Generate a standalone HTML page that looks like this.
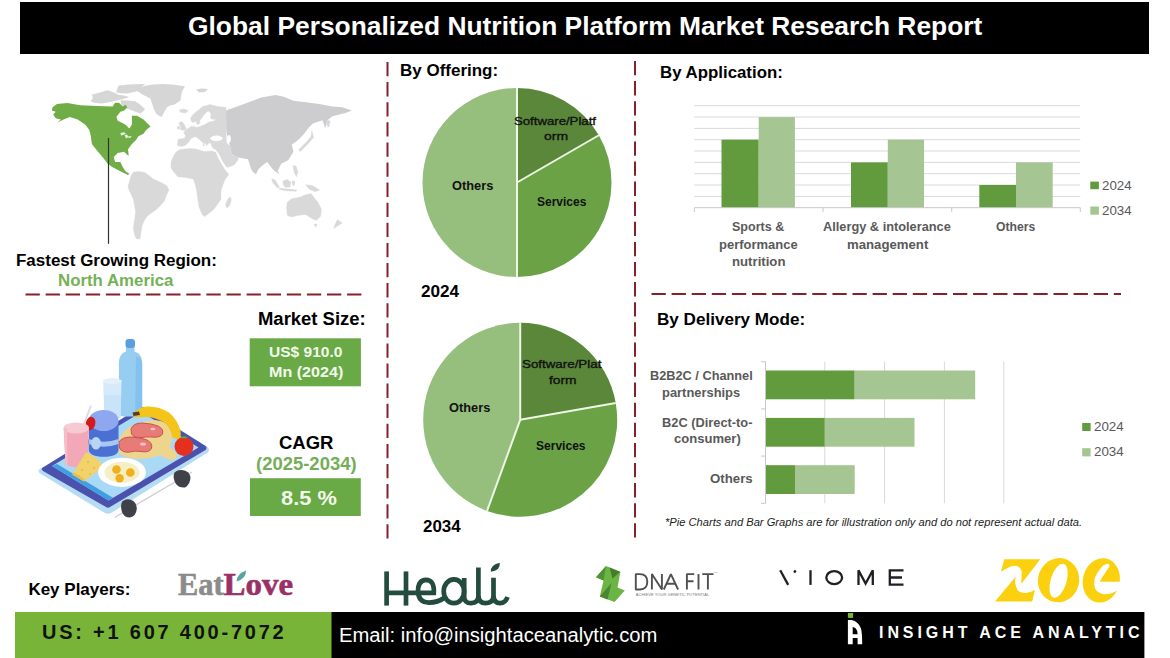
<!DOCTYPE html>
<html><head><meta charset="utf-8">
<style>
*{margin:0;padding:0;box-sizing:border-box}
html,body{width:1170px;height:658px;overflow:hidden;background:#fff}
body{position:relative;font-family:"Liberation Sans",sans-serif;color:#000}
.a{position:absolute;white-space:nowrap;line-height:1}
.b{font-weight:bold}
svg{position:absolute;left:0;top:0}
</style></head><body>
<svg width="1170" height="658" viewBox="0 0 1170 658">
<!-- header -->
<rect x="20" y="2" width="1129" height="52" fill="#000"/>
<!-- dashed separators -->
<g stroke="#86202c" stroke-width="2" stroke-dasharray="14.3 5.8" fill="none">
<line x1="387.5" y1="62" x2="387.5" y2="539"/>
<line x1="635" y1="61" x2="635" y2="539"/>
<line x1="25.5" y1="294.5" x2="362" y2="294.5"/>
<line x1="651.5" y1="294.1" x2="1121" y2="294.1"/>
</g>
<!-- MAP -->
<g id="map" stroke-linejoin="round">
<!-- Greenland + arctic (light gray) -->
<g fill="#d6d6d6">
<path d="M136.1,90.2 L141,87.5 L145,85.8 L153,84.5 L162.8,84.1 L172,84.6 L185,86.3 L183,89.5 L181.7,92.4 L181,96.5 L180.6,100.2 L177.5,102.5 L173.9,104.7 L170,105.5 L167.2,106.9 L164.5,111.5 L161.7,116.9 L158.5,115.5 L156.1,113.6 L154,109.5 L152.8,105.8 L151.5,102 L150.6,99.1 L147,96.8 L142.8,94.7 Z"/>
<path d="M116.1,92.4 L118.3,85.8 L126,84.8 L135,84.3 L145,84.1 L141,88 L137.2,91.3 L132,92.5 L127.2,93.6 L121,93.3 Z"/>
<path d="M91.7,94.7 L100,92.5 L107.2,90.2 L113,92 L118.3,94.7 L124,95.5 L129.4,96.9 L124,98.8 L118.3,100.2 L110,102 L101.7,103.6 L95,103 L90.6,101.3 L93,98 Z"/>
<path d="M120.6,100.2 L128,100.5 L135,101.3 L140,104.5 L145,109.1 L143,111.5 L140.6,113.6 L136,112 L131.7,110.2 L127,108.5 L123.9,106.9 L121,104 Z"/>
<path d="M196,89.5 L201,88.6 L208,89 L205,92 L199,92.6 Z"/>
</g>
<!-- North America (green) -->
<path fill="#70ad47" d="M52.5,107.3 L57,104 L67.4,103 L80.3,105.3 L97,106 L112.6,106.6 L115.1,102.7 L119,102.7 L122.9,106.6 L125.5,104.7 L127.4,107.3 L124.2,110.5 L120.3,111.8 L116.4,117 L117.7,120.8 L121.5,122.5 L125.5,124.7 L129.3,128.6 L131.9,124.7 L131.9,115.7 L137.1,115.7 L143.5,119.5 L150.6,126.6 L146.1,129.9 L143.5,133.7 L138.4,136.3 L135.8,140.2 L131.9,144.1 L128,149.2 L128.7,155.7 L126.8,154.4 L124.2,151.8 L117.7,153.1 L113.8,157 L115.1,162.1 L120.3,162.1 L122.9,167.3 L125.5,171.2 L129.3,173.8 L128,175 L120.3,171.2 L112.6,167.3 L107.4,163.4 L103.5,158.3 L97,150.5 L91.9,144.1 L90.6,135 L89.3,129.9 L85.4,124.7 L77.7,119.5 L70,117 L63.5,119.5 L57,122.8 L60.9,119.5 L55.7,118.2 L53.2,114.4 L55.7,111.8 L51.9,110.5 Z"/>
<!-- great lakes -->
<g fill="#e8f3df">
<path d="M120.5,133 L124,132.2 L126,133.5 L123,135 L121,135.5 Z"/>
<path d="M124.5,135 L127,134.5 L128.5,137 L126,138.5 Z"/>
<path d="M128,136.5 L131.5,136 L131,137.5 L128.5,138 Z"/>
</g>
<!-- Asia (darker gray) -->
<path fill="#cdcdcf" d="M226,110.5 L235,107.2 L248,102.4 L261,97.5 L275.6,95 L283.7,96.7 L293.4,100.7 L308,102.4 L319.4,104 L332.4,106.4 L342.1,107.2 L351.9,110.5 L345.4,112.9 L332.4,116.2 L327.5,120.2 L325.1,128.3 L322.6,120.2 L312.9,123.5 L309.7,126.7 L309.2,127 L304,134 L297,141 L291.7,144.5 L293.5,151.5 L288.2,160.2 L281.2,163.7 L277.7,170.7 L279.5,174.2 L276,172 L272.5,169 L267.2,162 L263,165 L258.5,169 L256,174.2 L253,172 L251.2,169 L248,159.2 L238.2,157.6 L231.7,154.3 L230,146.2 L226.8,134.8 L225.2,118.6 Z"/>
<!-- Europe / Middle East / Africa / S America / Australia (light gray) -->
<g fill="#d9d9d9" stroke="#d9d9d9" stroke-width="0.4">
<path d="M226,107.3 L224.7,107.3 L217.4,106.4 L210.1,104.6 L202.8,106.4 L197.3,110.9 L193,114.5 L190.5,118.2 L191.5,121.5 L193.7,122.8 L195.5,121 L197.3,124.6 L199.5,123.5 L200.1,120 L203.5,115.5 L206.5,111.9 L209,111 L211,114 L210.5,118.2 L213,119.5 L216,119 L214,121 L209,122 L205,124.5 L200,126.5 L196,127.5 L194.6,126.4 L191,126.4 L188,128.5 L185.5,130.1 L183.7,132.8 L185.5,135.5 L184.6,138.3 L178.2,139.2 L177.3,145.6 L181.9,146.5 L186,145 L188.2,142.8 L191,138.5 L195.5,136.5 L200.1,140.1 L203.7,143.8 L202.8,145.6 L204,146 L204.6,142 L206.5,145.6 L209.2,142.8 L211,143.8 L216,142.5 L221,141.9 L226.5,142.8 L226,134 L226.5,125 L226,115 Z"/>
<path d="M211,143.8 L216,142.5 L221,141.9 L226.5,142.8 L230,146.2 L231.7,154.3 L238.2,157.6 L238,160 L234,165 L227,167.5 L222.5,161 L218.5,153 L215,149 L212.8,148.3 Z"/>
<path d="M179.1,122.5 L182,121.5 L184,124 L186.4,129 L184,130.3 L180.5,130 L181,127 L179.5,125 Z"/>
<path d="M177.3,126.8 L179.8,126.2 L180,128.8 L177.5,129.3 Z"/>
<path d="M179.1,110 L184,109 L188.2,110.5 L186,112.8 L181,112.6 Z"/>
<path d="M171,162 L173.3,156.7 L176,152 L180,149.5 L190,148.5 L196,149 L204,151.5 L212,151 L215.6,152.2 L218,158 L221,163.3 L225,170 L228.9,174.4 L226,178 L224.4,181 L221,190 L221,198.9 L217,205 L213.3,210 L208,214 L204.4,216.7 L202.2,214.4 L199,207 L197.8,198.9 L196.5,190 L195.6,185.6 L193.3,178.9 L186,177.5 L177.8,176.7 L173,171 L171,167.8 Z"/>
<ellipse cx="228.5" cy="202.5" rx="2" ry="5.5" transform="rotate(20 228.5 202.5)"/>
<path d="M131,176 L133.3,172.2 L138,171.5 L144.4,172.2 L149,175.5 L153.3,178.9 L160,182 L166.7,185.6 L168.9,190 L166,196 L164.4,201 L160,206 L155.6,210 L150,214 L146.7,216.7 L144,221 L142.2,225.6 L141,232 L140,238.9 L137,239 L135.6,237.8 L134,232 L133.3,227.8 L134.5,220 L135.6,212.2 L134.5,205 L133.3,198.9 L131,194 L128.9,190 L128,186 L128.9,183.3 Z"/>
<path d="M287.3,202.2 L291.7,198.7 L300.5,196.9 L304,195.2 L311,193.4 L313.6,196.9 L318,202.2 L321.4,209.2 L320.6,216.2 L316.2,220.5 L311,217.9 L305.7,214.4 L298.7,215.3 L291.7,217 L287.3,215.3 L286.5,207.4 Z"/>
<path d="M314.4,224 L317,224 L316.5,226.6 L314.8,226.4 Z"/>
<path d="M337.2,219.7 L342.4,223.1 L339,225 L333.7,228.4 L334.5,226 Z"/>
<!-- SE Asia islands -->
<path d="M271.6,178.6 L275,180 L279.5,187.3 L277.5,188 L273,183 Z"/>
<path d="M279.5,188.2 L288,189 L297,190 L296,191.3 L286,190.8 L279.5,189.5 Z"/>
<path d="M283,181 L287,179.4 L290.8,182 L290,187 L285,187.3 L283,184 Z"/>
<path d="M292,181 L295,181.5 L294,186 L292.5,185 Z"/>
<path d="M293,165.5 L296,166 L297.8,172 L296.5,176.8 L294,172 Z"/>
<path d="M305.7,184.7 L312,185.5 L319.7,190 L315,191.7 L309,189 Z"/>
<path d="M311.8,130.5 L313.6,137.5 L307.4,144.5 L300.5,151.5 L298.7,149.7 L305.7,142.7 L311,136.6 Z"/>
<path d="M326.7,120 L330.2,121 L329,127 L327,126 Z"/>
</g>
<!-- seas -->
<g fill="#fff">
<ellipse cx="216.5" cy="138.3" rx="6.2" ry="2.7"/>
<ellipse cx="229" cy="139" rx="1.8" ry="4"/>
</g>
</g>

<!-- PIE 1 -->
<g id="pie1">
<path fill="#5a8739" d="M517,182.5 L517.00,88.00 A94.5,94.5 0 0 1 598.84,135.25 Z"/>
<path fill="#6aa245" d="M517,182.5 L598.84,135.25 A94.5,94.5 0 0 1 517.00,277.00 Z"/>
<path fill="#96be7d" d="M517,182.5 L517.00,277.00 A94.5,94.5 0 0 1 517.00,88.00 Z"/>
<line x1="517" y1="182.5" x2="517.00" y2="88.00" stroke="#eef6e6" stroke-width="2"/>
<line x1="517" y1="182.5" x2="598.84" y2="135.25" stroke="#eef6e6" stroke-width="2"/>
<line x1="517" y1="182.5" x2="517.00" y2="277.00" stroke="#eef6e6" stroke-width="2"/>
</g>
<!-- PIE 2 -->
<g id="pie2">
<path fill="#5a8739" d="M520.2,419.8 L520.20,322.80 A97,97 0 0 1 615.73,402.96 Z"/>
<path fill="#6aa245" d="M520.2,419.8 L615.73,402.96 A97,97 0 0 1 487.02,510.95 Z"/>
<path fill="#96be7d" d="M520.2,419.8 L487.02,510.95 A97,97 0 0 1 520.20,322.80 Z"/>
<line x1="520.2" y1="419.8" x2="520.20" y2="322.80" stroke="#eef6e6" stroke-width="2"/>
<line x1="520.2" y1="419.8" x2="615.73" y2="402.96" stroke="#eef6e6" stroke-width="2"/>
<line x1="520.2" y1="419.8" x2="487.02" y2="510.95" stroke="#eef6e6" stroke-width="2"/>
</g>
<g id="charts">
<line x1="694.4" y1="105.7" x2="1080.3" y2="105.7" stroke="#d9d9d9" stroke-width="1"/>
<line x1="694.4" y1="117.0" x2="1080.3" y2="117.0" stroke="#d9d9d9" stroke-width="1"/>
<line x1="694.4" y1="128.4" x2="1080.3" y2="128.4" stroke="#d9d9d9" stroke-width="1"/>
<line x1="694.4" y1="139.7" x2="1080.3" y2="139.7" stroke="#d9d9d9" stroke-width="1"/>
<line x1="694.4" y1="151.0" x2="1080.3" y2="151.0" stroke="#d9d9d9" stroke-width="1"/>
<line x1="694.4" y1="162.4" x2="1080.3" y2="162.4" stroke="#d9d9d9" stroke-width="1"/>
<line x1="694.4" y1="173.7" x2="1080.3" y2="173.7" stroke="#d9d9d9" stroke-width="1"/>
<line x1="694.4" y1="185.0" x2="1080.3" y2="185.0" stroke="#d9d9d9" stroke-width="1"/>
<line x1="694.4" y1="196.4" x2="1080.3" y2="196.4" stroke="#d9d9d9" stroke-width="1"/>
<rect x="721.5" y="139.7" width="37.2" height="68.0" fill="#629a3e"/>
<rect x="758.7" y="117.1" width="36.2" height="90.6" fill="#a5c692"/>
<rect x="851" y="162.4" width="36.8" height="45.3" fill="#629a3e"/>
<rect x="887.8" y="139.7" width="36.2" height="68.0" fill="#a5c692"/>
<rect x="979.3" y="185" width="36.7" height="22.7" fill="#629a3e"/>
<rect x="1016" y="162.4" width="36.7" height="45.3" fill="#a5c692"/>
<line x1="694.4" y1="207.7" x2="1080.3" y2="207.7" stroke="#c8c8c8" stroke-width="1"/>
<line x1="694.4" y1="207.7" x2="694.4" y2="212" stroke="#c8c8c8" stroke-width="1"/>
<line x1="823" y1="207.7" x2="823" y2="212" stroke="#c8c8c8" stroke-width="1"/>
<line x1="951.7" y1="207.7" x2="951.7" y2="212" stroke="#c8c8c8" stroke-width="1"/>
<line x1="1080.3" y1="207.7" x2="1080.3" y2="212" stroke="#c8c8c8" stroke-width="1"/>
<rect x="1090.3" y="181.6" width="8.6" height="7.6" fill="#629a3e"/>
<rect x="1090.3" y="206.5" width="8.6" height="8.2" fill="#a5c692"/>
<line x1="824.8" y1="361.7" x2="824.8" y2="503.3" stroke="#d9d9d9" stroke-width="1"/>
<line x1="884.6" y1="361.7" x2="884.6" y2="503.3" stroke="#d9d9d9" stroke-width="1"/>
<line x1="944.4" y1="361.7" x2="944.4" y2="503.3" stroke="#d9d9d9" stroke-width="1"/>
<line x1="1003.8" y1="361.7" x2="1003.8" y2="503.3" stroke="#d9d9d9" stroke-width="1"/>
<rect x="765.5" y="370.5" width="89.2" height="28.8" fill="#629a3e"/>
<rect x="854.7" y="370.5" width="120.5" height="28.8" fill="#a5c692"/>
<rect x="765.5" y="417.9" width="59.3" height="28.8" fill="#629a3e"/>
<rect x="824.8" y="417.9" width="89.7" height="28.8" fill="#a5c692"/>
<rect x="765.5" y="465.2" width="29.5" height="28.8" fill="#629a3e"/>
<rect x="795" y="465.2" width="59.7" height="28.8" fill="#a5c692"/>
<line x1="765.5" y1="361.7" x2="765.5" y2="503.3" stroke="#c8c8c8" stroke-width="1"/>
<line x1="761" y1="361.7" x2="765.5" y2="361.7" stroke="#c8c8c8" stroke-width="1"/>
<line x1="761" y1="408.9" x2="765.5" y2="408.9" stroke="#c8c8c8" stroke-width="1"/>
<line x1="761" y1="456.1" x2="765.5" y2="456.1" stroke="#c8c8c8" stroke-width="1"/>
<line x1="761" y1="503.3" x2="765.5" y2="503.3" stroke="#c8c8c8" stroke-width="1"/>
<rect x="1082.2" y="423" width="8.4" height="8" fill="#629a3e"/>
<rect x="1082.2" y="448.2" width="8.4" height="8.2" fill="#a5c692"/>
<line x1="108.5" y1="138" x2="108.5" y2="243.8" stroke="#333" stroke-width="1.2"/>
<rect x="249.7" y="338.3" width="111.2" height="48" fill="#6aaa46"/>
<rect x="250" y="478.2" width="110.8" height="37.8" fill="#6aaa46"/>
</g>
<g id="illus">
<!-- tablet -->
<path fill="#b6dcf4" d="M38.5,470.5 Q41,467 45,467 L139,408 Q142,406.5 145,408 L207,446.5 Q211,449.5 207,453 L112,512.5 Q108,515 104,512.5 L41,474 Q38,472.5 38.5,470.5 Z"/>
<path fill="#4a52ad" d="M42,468 L140,407.5 Q142,406.5 144,407.5 L205.5,446 Q207.5,448 205.5,450 L110,507 Q108,508.3 106,507 L43,471 Q41,469.5 42,468 Z"/>
<path fill="#a9d9f5" d="M52,466 L141.5,412 L198.5,447.5 L108.5,500.5 Z"/>
<path fill="#3f9fe2" d="M52,466 L108.5,500.5 L113,497.8 L57,464 Z"/>
<!-- bottle -->
<path fill="#98cdf2" d="M118.9,362 Q119,354 126,351.5 L126,346 L134.5,346 L134.5,351.5 Q142,354 142.2,362 L142.2,412 Q142,416 138,416.5 L123,416.5 Q119,416 118.9,412 Z"/>
<path fill="#7dbcec" d="M136,356 Q142,358 142.2,364 L142.2,412 Q142,416 138,416.5 L135,416.5 Z" opacity="0.7"/>
<rect x="125.5" y="339" width="9.5" height="9" rx="3" fill="#5a9ee0"/>
<!-- glass -->
<path fill="#d6eaf9" d="M103.2,381 L121.6,381 L120.5,418 Q112.5,421 104.3,418 Z"/>
<ellipse cx="112.4" cy="381" rx="9.2" ry="3" fill="#e4f1fb"/>
<path fill="#c6e1f7" d="M104,395 L121,395 L120.5,418 Q112.5,421 104.3,418 Z" opacity="0.8"/>
<!-- cutting board -->
<path fill="#eed58e" d="M118,446 Q119,434 128,428 Q140,421 155,420 Q168,421 171,430 Q173,440 170,447 Q175,451 177,455 Q177,460 171,460 Q165,459 160,455 Q150,459 138,459 Q124,458 119,453 Z"/>
<!-- banana -->
<path fill="#f4c41b" d="M133.5,414 Q138,407.5 147,406.5 Q159,406 169,412.5 Q178,420 180.5,431 Q181.5,437 179,440 L172.5,437.5 Q171,429.5 165.5,423.5 Q157,417.5 147,417 Q140,417 135,417.5 Z"/>
<path fill="#5b3a1e" d="M132.5,412.5 L139,411.5 L140,415 L133.5,416 Z"/>
<!-- meat -->
<path fill="#e77b78" stroke="#c9544f" stroke-width="1" d="M131,429 Q133,423 142,423 Q152,423.5 158,426 Q164,429 162.5,434 Q160,438 152,437 Q146,436.5 142,437.5 Q134,438 131.5,434 Z"/>
<path fill="#e77b78" stroke="#c9544f" stroke-width="1" d="M119,442 Q122,437 131,437 Q141,437.5 147,440 Q153,443 151.5,448.5 Q149,453 141,451.5 Q135,450.5 130,452 Q122,453 119.5,448 Z"/>
<ellipse cx="143" cy="444" rx="3" ry="1.5" fill="#f7c3c8"/>
<ellipse cx="153" cy="429" rx="2.5" ry="1.3" fill="#f7c3c8"/>
<!-- apple -->
<circle cx="184" cy="446.5" r="9.5" fill="#e5301f"/>
<path fill="#6aa33d" d="M180,437.5 Q184,435 188,437.5 Q184,439.5 180,437.5 Z"/>
<!-- blue cup -->
<path fill="#4a70d3" d="M88.8,421 L118.5,421 L118.5,450 Q118,456.5 103.7,456.8 Q89.3,456.5 88.8,450 Z"/>
<path fill="#a8c6f2" d="M88.8,439 Q103.7,444.5 118.5,439 L118.5,444 Q103.7,449.5 88.8,444 Z"/>
<ellipse cx="96" cy="443.3" rx="4.8" ry="6.3" fill="#b9d5f5"/>
<ellipse cx="103.7" cy="420.5" rx="14.85" ry="10.5" fill="#8fa7ef"/>
<!-- strawberry -->
<ellipse cx="90.5" cy="423.5" rx="4.8" ry="6.8" fill="#d21c1c" transform="rotate(15 90.5 423.5)"/>
<!-- straw -->
<line x1="80.5" y1="433" x2="91" y2="405.5" stroke="#dcdce4" stroke-width="2"/>
<!-- pink glass -->
<path fill="#f2a8b6" d="M63.7,428 L89,428 L87.8,464 Q76.3,470 65.5,464.5 Z"/>
<ellipse cx="76.3" cy="428" rx="12.7" ry="5.5" fill="#f7c9d2"/>
<path fill="#f6bcc8" d="M63.7,428 L67,428 L67.5,465.5 L65.5,464.5 Z"/>
<!-- cheese -->
<path fill="#f2d26b" d="M85.8,452.3 Q95,455 103.8,466.5 L84,481.5 L72.3,474.5 Z"/>
<path fill="#e8bf50" d="M72.3,474.5 L84,481.5 L84.8,479 L74,472.5 Z"/>
<g fill="#deb648"><circle cx="88" cy="462" r="1"/><circle cx="94" cy="468" r="1"/><circle cx="82" cy="470" r="1"/><circle cx="90" cy="474" r="0.9"/><circle cx="79" cy="476" r="0.8"/></g>
<!-- plate -->
<ellipse cx="122" cy="472.3" rx="24" ry="14.6" fill="#fff"/>
<ellipse cx="122" cy="472.3" rx="17.5" ry="10.5" fill="#f6efc6"/>
<g fill="#f0b01e"><circle cx="116.5" cy="469.5" r="4.3"/><circle cx="130.3" cy="472.5" r="4.3"/><circle cx="119.6" cy="478.3" r="4.2"/></g>
<!-- dumbbell -->
<line x1="114.5" y1="517.5" x2="192" y2="472" stroke="#cfcfd4" stroke-width="1.4"/>
<path fill="#3f4149" d="M173.8,474 Q176,469.5 182,470 Q189.5,471 190.5,477 Q190.5,484 185,487.5 Q179,488 176,484 Q173,479 173.8,474 Z"/>
<path fill="#3f4149" d="M121.5,503 Q124,498.5 130,499.5 Q137,501.5 136.8,509 Q136,516.5 130,517.5 Q124,517.5 122,512 Q120.5,507 121.5,503 Z"/>
</g>

<!-- footer -->
<rect x="15" y="612" width="317" height="46" fill="#77b437"/>
<rect x="331.5" y="612" width="812.9" height="46" fill="#000"/>
<g id="logos">
<!-- EatLove -->
<text x="178" y="595.3" font-family="Liberation Serif" font-weight="bold" font-size="31" fill="#8b8b8d" stroke="#8b8b8d" stroke-width="0.6" textLength="45.5" lengthAdjust="spacingAndGlyphs">Eat</text>
<text x="223.6" y="595.3" font-family="Liberation Serif" font-weight="bold" font-size="31" fill="#9a3166" stroke="#9a3166" stroke-width="0.6" textLength="69.5" lengthAdjust="spacingAndGlyphs">Love</text>
<path fill="#5aa39a" d="M236.5,581.5 Q236.8,574 246,570.5 Q246.5,578.5 236.5,581.5 Z"/>
<!-- Heali -->
<g fill="none" stroke="#234c3f" stroke-width="4.7">
<line x1="386.6" y1="571.4" x2="386.6" y2="605.6"/>
<line x1="406" y1="571.4" x2="406" y2="605.6"/>
<path d="M386.6,592.8 L433.8,592.8 Q434.5,580 426,579.8 Q418,580 418,591.5 Q418.5,602.5 429,602.6 Q438,602.5 444,598"/>
<ellipse cx="453.9" cy="591.3" rx="10.2" ry="11.9"/>
<path d="M464.2,578 L464.2,597 Q464.5,603.2 471,603.2 Q478.4,603 478.4,596 L478.4,567.5"/>
<path d="M478.4,596 Q478.8,603.2 485.5,603.2 Q493.5,603 493.5,596 L493.5,577.8"/>
<path d="M493.5,596 Q494,603.2 500,603.2 Q505.5,603 507.5,597"/>
</g>
<path fill="#234c3f" d="M490.8,571.8 Q490.5,564.5 499.8,562.7 Q500.5,570.5 490.8,571.8 Z"/>
<!-- DNA FIT icon -->
<path fill="#6ab543" d="M606,566 L620.4,571.8 L617.5,587.5 L624.8,590.5 L614.5,602 L599.8,596.5 L603.5,580.5 L596,577.2 Z"/>
<path fill="#447c2c" d="M609.5,567.5 L620.2,572 L612.5,578.5 Z"/>
<path fill="#447c2c" d="M599.8,596.5 L611.5,583 L607.5,599.5 Z" opacity="0.85"/>
<path fill="#4f9134" d="M596,577.2 L606,566 L603.5,580.5 Z"/>
<!-- DNA FIT letters -->
<g fill="none" stroke="#505053" stroke-width="1.9" stroke-linejoin="miter" stroke-miterlimit="1.4">
<path d="M635.8,574.1 L635.8,589.5 L640,589.5 Q647.3,589.3 647.3,581.8 Q647.3,574.2 640,574.1 Z"/>
<path d="M651.9,589.5 L651.9,574.1 L661.9,589.5 L661.9,574.1"/>
<path d="M663.8,589.5 L670.9,574.1 L678.1,589.5 M666.7,583.8 L675.2,583.8"/>
<path d="M686.9,589.5 L686.9,574.1 L694.2,574.1 M686.9,581.2 L693.5,581.2"/>
<path d="M698.5,574.1 L698.5,589.5"/>
<path d="M702.3,574.1 L713.5,574.1 M707.9,574.1 L707.9,589.5"/>
</g>
<text x="635.8" y="596" font-family="Liberation Sans" font-size="3.6" fill="#777" textLength="73.4" lengthAdjust="spacingAndGlyphs">ACHIEVE YOUR GENETIC POTENTIAL</text>
<text x="714" y="572.5" font-family="Liberation Sans" font-size="2.5" fill="#888">TM</text>
<!-- VIOME -->
<g fill="none" stroke="#1f1f25" stroke-width="2.3">
<path d="M780.2,570.2 L788.2,584.9"/>
<path d="M795.6,570.3 L794.2,572.6"/>
<path d="M810.5,570.2 L810.5,584.9"/>
<ellipse cx="834.2" cy="577.6" rx="7.9" ry="6.5"/>
<path d="M858.5,585 L858.5,570.2 L865.6,583.5 L872.8,570.2 L872.8,585"/>
<path d="M903.5,570.4 L889.8,570.4 L889.8,584.7 L903.5,584.7 M889.8,577.5 L902,577.5"/>
</g>
<!-- ZOE -->
<g fill="#fbd00f">
<path d="M1004.3,559.3 L1040.3,559.3 L1021.4,583.7 Q1021.2,578 1021.8,572 Q1021,567.5 1017,565.9 Q1012,565.2 1008.6,567.4 Q1004,569.5 1000.8,572 Z"/>
<path d="M995,601.5 L1016,576.3 Q1014.8,579.5 1015.2,582.1 Q1015.3,586.5 1017.5,590 Q1020.5,593.5 1026.4,593 Q1031,592 1034.9,589.9 L1032.2,601.5 Z"/>
<ellipse cx="1058.6" cy="580.2" rx="20.6" ry="22.2" transform="rotate(13 1058.6 580.2)"/>
<ellipse cx="1101.3" cy="580.4" rx="18.4" ry="22.4" transform="rotate(13 1101.3 580.4)"/>
</g>
<g fill="#fff">
<ellipse cx="1058.6" cy="580.8" rx="8" ry="17.6" transform="rotate(16.6 1058.6 580.8)"/>
<path d="M1099.7,581.3 L1109.4,566.6 Q1110,563.5 1106.7,563.9 Q1103,564.5 1101.3,567.4 Q1096.5,573 1094.7,578.3 Q1093.4,584 1095.1,588.4 Q1097,592.5 1103.6,594.2 Q1110.6,594.5 1116.8,590.7 L1119.9,588.4 L1125,588.4 L1125,581.8 L1100.5,581.8 Z"/>
</g>
<!-- Insight Ace logo -->
<rect x="847.9" y="613" width="5.2" height="4.9" fill="#77b437"/>
<path fill="#fff" fill-rule="evenodd" d="M847.9,620 L851.5,620 Q858.5,621.5 861,628.5 Q862.2,633 862.2,644.3 L857.6,644.3 L857.6,638 L852.7,638 L852.7,644.3 L847.9,644.3 Z M852.7,627 L852.7,634.3 L857.6,634.3 Q857.6,630.5 855.8,628.5 Q854.3,627 852.7,627 Z"/>
</g>
<!-- /logos -->
</svg>


<!-- TEXT START -->
<div class="a" id="t_title" style="left:187.9px;top:14.2px;font-size:25px;color:#fff;font-weight:bold;transform:scaleX(1.055);transform-origin:0 0;">Global Personalized Nutrition Platform Market Research Report</div>
<div class="a" id="t_off" style="left:399.8px;top:61.7px;font-size:16.5px;color:#000;font-weight:bold;transform:scaleX(1.029);transform-origin:0 0;">By Offering:</div>
<div class="a" id="t_app" style="left:660.3px;top:63.5px;font-size:17px;color:#000;font-weight:bold;transform:scaleX(0.990);transform-origin:0 0;">By Application:</div>
<div class="a" id="t_del" style="left:656.5px;top:310.8px;font-size:16.5px;color:#000;font-weight:bold;transform:scaleX(1.036);transform-origin:0 0;">By Delivery Mode:</div>
<div class="a" id="t_ms" style="left:257.7px;top:310.3px;font-size:18px;color:#000;font-weight:bold;transform:scaleX(1.025);transform-origin:0 0;">Market Size:</div>
<div class="a" id="t_fgr" style="left:15.5px;top:253.1px;font-size:16px;color:#000;font-weight:bold;transform:scaleX(1.061);transform-origin:0 0;">Fastest Growing Region:</div>
<div class="a" id="t_na" style="left:57.8px;top:272.9px;font-size:16px;color:#74b157;font-weight:bold;transform:scaleX(1.052);transform-origin:0 0;">North America</div>
<div class="a" id="t_2024" style="left:420.8px;top:282.9px;font-size:16.5px;color:#000;font-weight:bold;transform:scaleX(1.039);transform-origin:0 0;">2024</div>
<div class="a" id="t_2034" style="left:422.7px;top:518.8px;font-size:16px;color:#000;font-weight:bold;transform:scaleX(1.060);transform-origin:0 0;">2034</div>
<div class="a" id="t_cagr" style="left:279.3px;top:434.6px;font-size:17.5px;color:#000;font-weight:bold;transform:scaleX(1.056);transform-origin:0 0;">CAGR</div>
<div class="a" id="t_yrs" style="left:255.7px;top:456.2px;font-size:17.5px;color:#74ae58;font-weight:bold;transform:scaleX(1.055);transform-origin:0 0;">(2025-2034)</div>
<div class="a" id="t_us" style="left:269.1px;top:345.3px;font-size:14.8px;color:#f2f9ec;font-weight:bold;transform:scaleX(1.049);transform-origin:0 0;">US$ 910.0</div>
<div class="a" id="t_mn" style="left:268.5px;top:365.1px;font-size:14.8px;color:#f2f9ec;font-weight:bold;transform:scaleX(1.088);transform-origin:0 0;">Mn (2024)</div>
<div class="a" id="t_85" style="left:280.6px;top:487.6px;font-size:20.5px;color:#f2f9ec;font-weight:bold;transform:scaleX(1.065);transform-origin:0 0;">8.5 %</div>
<div class="a" id="t_kp" style="left:28.4px;top:581.2px;font-size:17px;color:#000;font-weight:bold;transform:scaleX(1.000);transform-origin:0 0;">Key Players:</div>
<div class="a" id="t_ph" style="left:42.0px;top:622.3px;font-size:20.6px;color:#111;font-weight:bold;letter-spacing:2.87px;transform:scaleX(0.97);transform-origin:0 0;">US: +1 607 400-7072</div>
<div class="a" id="t_em" style="left:339.3px;top:625.5px;font-size:19.5px;color:#fff;transform:scaleX(1.037);transform-origin:0 0;">Email: info@insightaceanalytic.com</div>
<div class="a" id="t_ia" style="left:879.0px;top:624.5px;font-size:16px;color:#fff;font-weight:bold;letter-spacing:3.93px;transform:scaleX(1.0);transform-origin:0 0;">INSIGHT ACE ANALYTIC</div>
<div class="a" id="t_sp1" style="left:732.4px;top:220.7px;font-size:12.5px;color:#595959;font-weight:bold;transform:scaleX(1.002);transform-origin:0 0;">Sports &amp;</div>
<div class="a" id="t_sp2" style="left:719.2px;top:238.9px;font-size:12.5px;color:#595959;font-weight:bold;transform:scaleX(1.039);transform-origin:0 0;">performance</div>
<div class="a" id="t_sp3" style="left:732.3px;top:255.7px;font-size:12.5px;color:#595959;font-weight:bold;transform:scaleX(1.055);transform-origin:0 0;">nutrition</div>
<div class="a" id="t_al1" style="left:822.9px;top:220.7px;font-size:12.5px;color:#595959;font-weight:bold;transform:scaleX(1.022);transform-origin:0 0;">Allergy &amp; intolerance</div>
<div class="a" id="t_al2" style="left:846.9px;top:238.9px;font-size:12.5px;color:#595959;font-weight:bold;transform:scaleX(1.054);transform-origin:0 0;">management</div>
<div class="a" id="t_ot1" style="left:996.0px;top:220.7px;font-size:12.5px;color:#595959;font-weight:bold;transform:scaleX(0.974);transform-origin:0 0;">Others</div>
<div class="a" id="t_lg1" style="left:1102.4px;top:180.3px;font-size:12.5px;color:#595959;transform:scaleX(1.065);transform-origin:0 0;">2024</div>
<div class="a" id="t_lg2" style="left:1102.4px;top:205.2px;font-size:12.5px;color:#595959;transform:scaleX(1.065);transform-origin:0 0;">2034</div>
<div class="a" id="t_d1" style="left:650.3px;top:369.6px;font-size:12.7px;color:#595959;font-weight:bold;transform:scaleX(1.005);transform-origin:0 0;">B2B2C / Channel</div>
<div class="a" id="t_d2" style="left:662.3px;top:386.7px;font-size:12.7px;color:#595959;font-weight:bold;transform:scaleX(1.017);transform-origin:0 0;">partnerships</div>
<div class="a" id="t_d3" style="left:661.5px;top:417.0px;font-size:12.7px;color:#595959;font-weight:bold;transform:scaleX(1.010);transform-origin:0 0;">B2C (Direct-to-</div>
<div class="a" id="t_d4" style="left:673.8px;top:433.2px;font-size:12.7px;color:#595959;font-weight:bold;transform:scaleX(1.029);transform-origin:0 0;">consumer)</div>
<div class="a" id="t_d5" style="left:709.7px;top:473.2px;font-size:12.7px;color:#595959;font-weight:bold;transform:scaleX(1.044);transform-origin:0 0;">Others</div>
<div class="a" id="t_lg3" style="left:1093.9px;top:420.7px;font-size:12.5px;color:#595959;transform:scaleX(1.069);transform-origin:0 0;">2024</div>
<div class="a" id="t_lg4" style="left:1093.9px;top:446.2px;font-size:12.5px;color:#595959;transform:scaleX(1.069);transform-origin:0 0;">2034</div>
<div class="a" id="t_fn" style="left:665.2px;top:516.6px;font-size:10.5px;color:#222;font-style:italic;transform:scaleX(1.062);transform-origin:0 0;">*Pie Charts and Bar Graphs are for illustration only and do not represent actual data.</div>
<div class="a" id="t_p1a" style="left:514.1px;top:115.5px;font-size:11.5px;color:#111;transform:scaleX(1.145);transform-origin:0 0;-webkit-text-stroke:0.35px #111;">Software/Platf</div>
<div class="a" id="t_p1b" style="left:544.0px;top:131.4px;font-size:11.5px;color:#111;transform:scaleX(1.211);transform-origin:0 0;-webkit-text-stroke:0.35px #111;">orm</div>
<div class="a" id="t_p1c" style="left:451.9px;top:180.3px;font-size:12.2px;color:#111;font-weight:bold;transform:scaleX(1.050);transform-origin:0 0;">Others</div>
<div class="a" id="t_p1d" style="left:537.0px;top:195.9px;font-size:12.2px;color:#111;font-weight:bold;transform:scaleX(0.984);transform-origin:0 0;">Services</div>
<div class="a" id="t_p2a" style="left:521.9px;top:358.7px;font-size:11.5px;color:#111;transform:scaleX(1.160);transform-origin:0 0;-webkit-text-stroke:0.35px #111;">Software/Plat</div>
<div class="a" id="t_p2b" style="left:549.0px;top:374.6px;font-size:11.5px;color:#111;transform:scaleX(1.200);transform-origin:0 0;-webkit-text-stroke:0.35px #111;">form</div>
<div class="a" id="t_p2c" style="left:448.6px;top:401.6px;font-size:12.2px;color:#111;font-weight:bold;transform:scaleX(1.050);transform-origin:0 0;">Others</div>
<div class="a" id="t_p2d" style="left:536.0px;top:439.7px;font-size:12.2px;color:#111;font-weight:bold;transform:scaleX(0.988);transform-origin:0 0;">Services</div>
<!-- TEXT END -->
</body></html>
